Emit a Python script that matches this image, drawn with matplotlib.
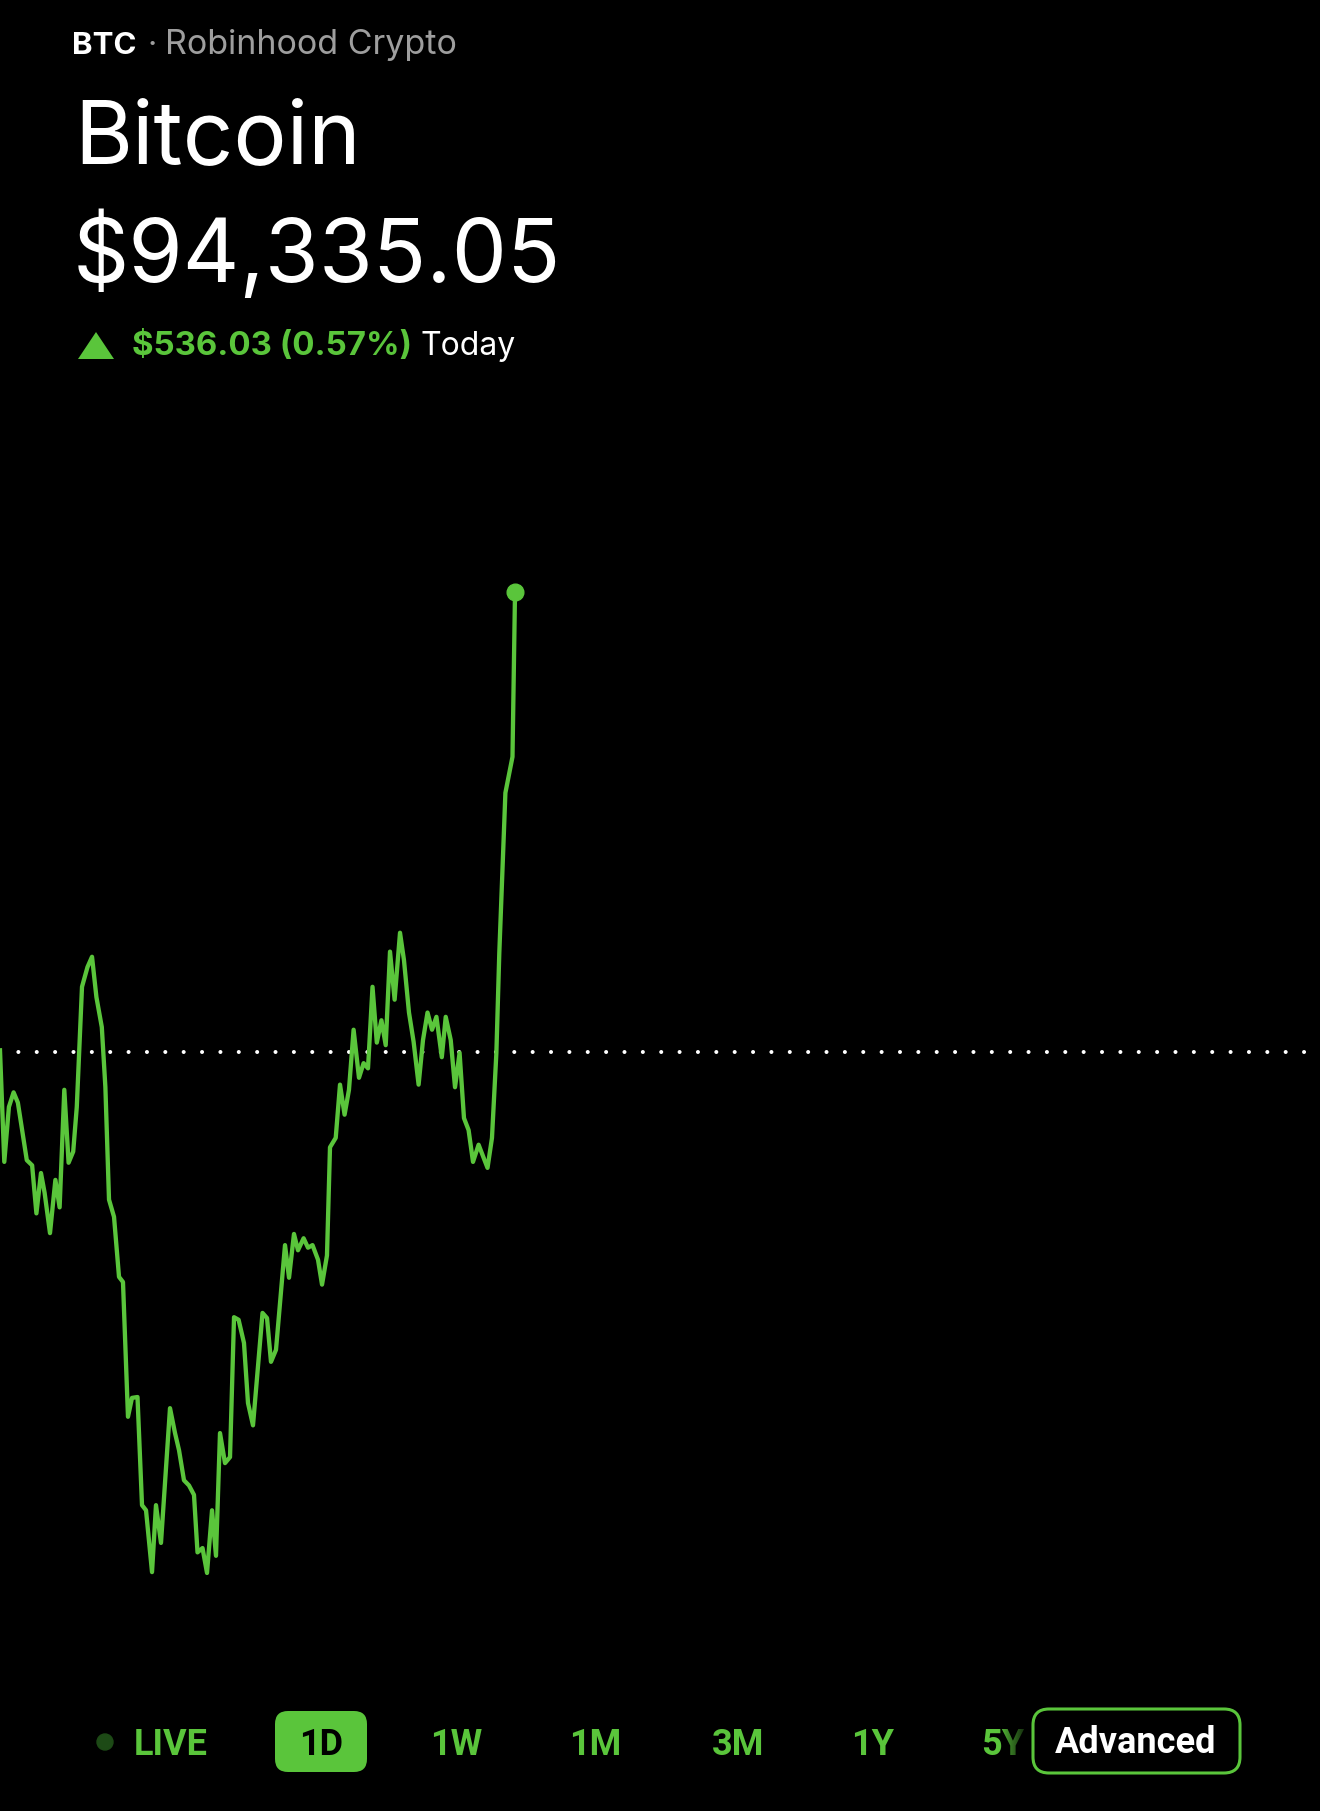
import numpy as np
import matplotlib.pyplot as plt
from matplotlib.patches import FancyBboxPatch, Polygon, Circle

GREEN = '#5ac53b'
GREY = '#9e9e9e'

# header values
symbol = "BTC"
source = "Robinhood Crypto"
name = "Bitcoin"
last_price = 94335.05
change = 536.03
change_pct = 0.57
prev_close = last_price - change

# 1D price trace (hours since open, price in USD)
hours = [0.0, 0.078, 0.162, 0.247, 0.325, 0.487, 0.584, 0.662, 0.745, 0.811,
         0.909, 1.007, 1.084, 1.169, 1.247, 1.331, 1.396, 1.491, 1.591, 1.673,
         1.753, 1.851, 1.916, 1.982, 2.073, 2.164, 2.236, 2.327, 2.400, 2.500,
         2.582, 2.655, 2.764, 2.836, 2.927, 3.091, 3.182, 3.255, 3.345, 3.436,
         3.527, 3.591, 3.682, 3.764, 3.855, 3.927, 4.000, 4.091, 4.182, 4.255,
         4.338, 4.436, 4.509, 4.600, 4.773, 4.855, 4.927, 5.018, 5.182, 5.255,
         5.345, 5.418, 5.520, 5.600, 5.682, 5.782, 5.855, 5.945, 6.000, 6.104,
         6.182, 6.265, 6.345, 6.429, 6.527, 6.611, 6.691, 6.773, 6.851, 6.935,
         7.013, 7.091, 7.175, 7.273, 7.345, 7.436, 7.520, 7.611, 7.691, 7.773,
         7.855, 7.935, 8.033, 8.104, 8.195, 8.273, 8.356, 8.436, 8.520, 8.600,
         8.702, 8.864, 8.945, 9.025, 9.078, 9.189, 9.318, 9.364]
prices = [93801, 93671, 93735, 93752, 93740, 93673, 93667, 93611, 93658, 93635,
          93588, 93650, 93618, 93755, 93670, 93683, 93735, 93875, 93898, 93910,
          93863, 93828, 93758, 93627, 93607, 93537, 93531, 93374, 93396, 93397,
          93271, 93265, 93193, 93271, 93227, 93384, 93355, 93335, 93300, 93294,
          93283, 93216, 93221, 93192, 93265, 93212, 93355, 93320, 93327, 93490,
          93487, 93460, 93390, 93364, 93495, 93489, 93438, 93452, 93574, 93536,
          93587, 93568, 93582, 93571, 93574, 93557, 93528, 93562, 93688, 93699,
          93761, 93726, 93755, 93825, 93769, 93786, 93780, 93875, 93810, 93836,
          93807, 93916, 93860, 93938, 93906, 93845, 93811, 93761, 93813, 93845,
          93825, 93840, 93793, 93840, 93813, 93758, 93798, 93722, 93708, 93671,
          93691, 93664, 93699, 93798, 93914, 94101, 94143, 94335.05]

ranges = ["LIVE", "1D", "1W", "1M", "3M", "1Y", "5Y"]

fig = plt.figure(figsize=(13.2, 18.11), dpi=100, facecolor='black')

# chart area
ax = fig.add_axes([0, 0.0889, 1, 0.635])
ax.set_facecolor('black')
ax.set_xlim(0, 24)
ax.set_ylim(prev_close - 696.8, prev_close + 643.2)
ax.axis('off')

ax.axhline(prev_close, color='white', lw=2.9, linestyle=(0, (0.01, 4.55)),
           dash_capstyle='round', zorder=1)
ax.plot(hours, prices, color=GREEN, lw=3.1, solid_joinstyle='round', zorder=2)
ax.plot(hours[-1], prices[-1], 'o', color=GREEN, ms=12, zorder=3)

# overlay in pixel coordinates for the text and buttons
ui = fig.add_axes([0, 0, 1, 1])
ui.set_xlim(0, 1320)
ui.set_ylim(1811, 0)
ui.axis('off')
ui.patch.set_visible(False)

ui.text(72, 54, symbol, color='white', fontsize=22.5, fontweight='bold',
        family='Inter', va='baseline')
ui.text(147, 54, "\u00b7", color=GREY, fontsize=23, family='Inter', va='baseline')
ui.text(165, 54, source, color=GREY, fontsize=24.5, family='Inter', va='baseline')
ui.text(74, 163, name, color='white', fontsize=64, family='Inter', va='baseline')
ui.text(73, 282, f"${last_price:,.2f}", color='white', fontsize=63.2,
        family='Inter', va='baseline')

ui.add_patch(Polygon([[78, 359], [114, 359], [96, 332]], closed=True,
                     color=GREEN, lw=0))
ui.text(132, 355, f"${change:,.2f} ({change_pct:.2f}%)", color=GREEN,
        fontsize=23.8, fontweight='bold', family='Inter', va='baseline')
ui.text(421, 355, "Today", color='white', fontsize=23, family='Inter',
        va='baseline')

# range selector
btn_x = [171, 321, 456, 595, 738, 873, 1003]
for label, x in zip(ranges, btn_x):
    col = 'black' if label == "1D" else GREEN
    if label == "1D":
        ui.add_patch(FancyBboxPatch((275, 1711), 92, 61,
                                    boxstyle="round,pad=0,rounding_size=13",
                                    fc=GREEN, ec='none'))
    ui.text(x, 1755, label, color=col, fontsize=26, fontweight='bold',
            family='Roboto', ha='center', va='baseline')

ui.add_patch(Circle((105, 1742), 8, color='#1d4a16'))

# fade over the 5Y label where the Advanced button overlaps
fade = np.zeros((2, 64, 4))
fade[..., 3] = np.linspace(0, 0.92, 64) ** 0.8
ui.imshow(fade, extent=(1000, 1032, 1770, 1715), aspect='auto', zorder=5)

ui.add_patch(FancyBboxPatch((1033, 1709), 207, 64,
                            boxstyle="round,pad=0,rounding_size=16",
                            fc='black', ec=GREEN, lw=2.2, zorder=6))
ui.text(1136, 1753, "Advanced", color='white', fontsize=26, fontweight='bold',
        family='Roboto', ha='center', va='baseline', zorder=7)
ui.set_xlim(0, 1320)
ui.set_ylim(1811, 0)

fig.savefig('out.png', dpi=100, facecolor='black')
